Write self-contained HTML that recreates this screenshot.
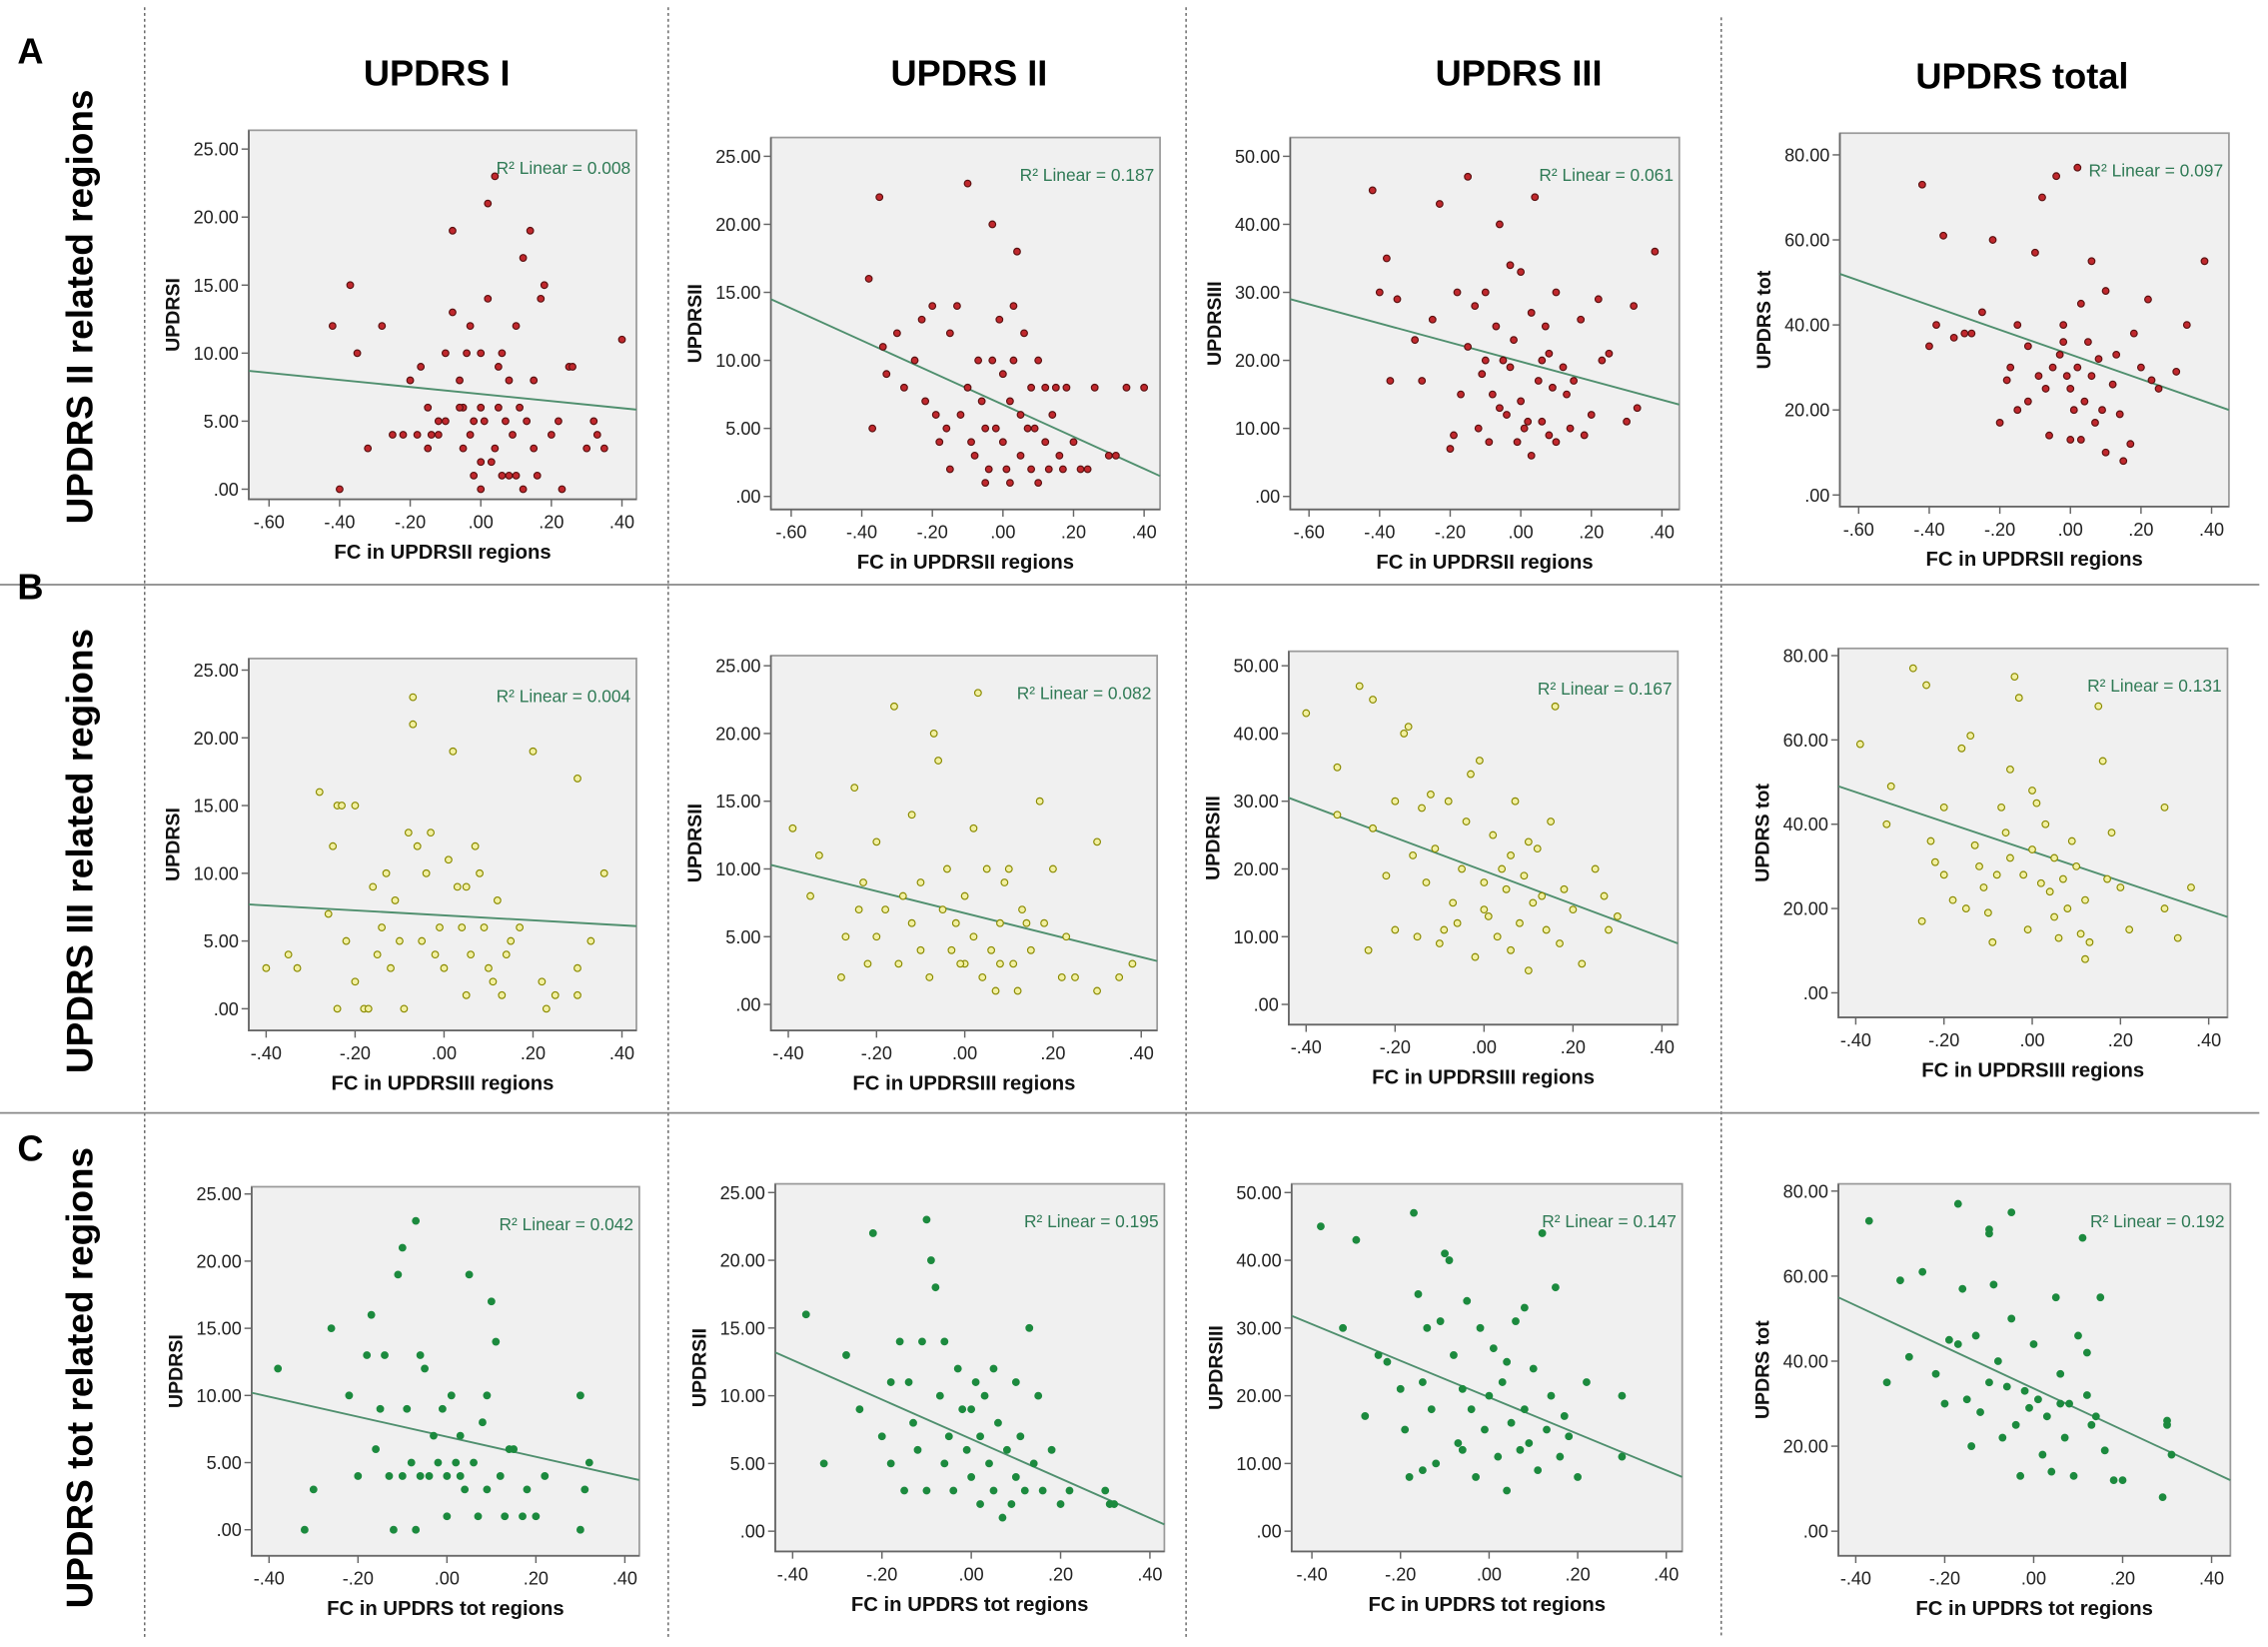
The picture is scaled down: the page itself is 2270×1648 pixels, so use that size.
<!DOCTYPE html>
<html><head><meta charset="utf-8"><style>
html,body{margin:0;padding:0;background:#fff;}
svg{display:block;font-family:"Liberation Sans",Arial,sans-serif;}
</style></head><body>
<svg id="fig" width="2270" height="1648" viewBox="0 0 1568 1138" preserveAspectRatio="none" xmlns="http://www.w3.org/2000/svg">
<g id="chrome">
<line x1="100" y1="5" x2="100" y2="1132" stroke="#666" stroke-dasharray="2,2"/>
<line x1="462" y1="5" x2="462" y2="1132" stroke="#666" stroke-dasharray="2,2"/>
<line x1="820" y1="5" x2="820" y2="1132" stroke="#666" stroke-dasharray="2,2"/>
<line x1="1190" y1="12" x2="1190" y2="1132" stroke="#666" stroke-dasharray="2,2"/>
<line x1="0" y1="404" x2="1562" y2="404" stroke="#888" stroke-width="1.2"/>
<line x1="0" y1="769" x2="1562" y2="769" stroke="#888" stroke-width="1.2"/>
<text x="302" y="59" text-anchor="middle" font-size="25" font-weight="bold">UPDRS I</text>
<text x="670" y="59" text-anchor="middle" font-size="25" font-weight="bold">UPDRS II</text>
<text x="1050" y="59" text-anchor="middle" font-size="25" font-weight="bold">UPDRS III</text>
<text x="1398" y="61" text-anchor="middle" font-size="25" font-weight="bold">UPDRS total</text>
<text x="12" y="44" font-size="25" font-weight="bold">A</text>
<text x="12" y="414" font-size="25" font-weight="bold">B</text>
<text x="12" y="802" font-size="25" font-weight="bold">C</text>
<text transform="translate(64,212) rotate(-90)" text-anchor="middle" font-size="25.5" font-weight="bold">UPDRS II related regions</text>
<text transform="translate(64,588) rotate(-90)" text-anchor="middle" font-size="25.5" font-weight="bold">UPDRS III related regions</text>
<text transform="translate(64,952) rotate(-90)" text-anchor="middle" font-size="25.5" font-weight="bold">UPDRS tot related regions</text>
</g>
<g id="plots"></g>
</svg>
<script>
// ---- data ----
const p1 = [[-0.4,0],[-0.42,12],[-0.37,15],[-0.35,10],[-0.32,3],[-0.28,12],[-0.25,4],[-0.22,4],[-0.2,8],[-0.18,4],[-0.17,9],[-0.15,3],[-0.14,4],[-0.12,4],[-0.1,5],[-0.1,10],[-0.08,13],[-0.08,19],[-0.06,8],[-0.05,6],[-0.05,3],[-0.04,10],[-0.03,12],[-0.03,4],[-0.02,1],[0,0],[0,6],[0,10],[0.01,5],[0.02,14],[0.02,21],[0.03,2],[0.04,23],[0.04,3],[0.05,6],[0.06,10],[0.07,5],[0.08,1],[0.08,8],[0.09,4],[0.1,12],[0.1,1],[0.12,17],[0.13,5],[0.14,19],[0.15,3],[0.16,1],[0.17,14],[0.18,15],[0.2,4],[0.22,5],[0.23,0],[0.25,9],[0.26,9],[0.3,3],[0.32,5],[0.33,4],[0.35,3],[0.4,11],[-0.06,6],[0,2],[-0.12,5],[0.11,6],[0.05,9],[-0.02,5],[0.12,0],[0.06,1],[-0.15,6],[0.15,8]];
const p2 = [[-0.38,16],[-0.35,22],[-0.37,5],[-0.34,11],[-0.33,9],[-0.3,12],[-0.28,8],[-0.25,10],[-0.23,13],[-0.22,7],[-0.2,14],[-0.19,6],[-0.18,4],[-0.16,5],[-0.15,12],[-0.15,2],[-0.13,14],[-0.12,6],[-0.1,23],[-0.1,8],[-0.09,4],[-0.08,3],[-0.07,10],[-0.06,7],[-0.05,5],[-0.05,1],[-0.03,20],[-0.03,10],[-0.02,5],[-0.01,13],[0,9],[0,4],[0.01,2],[0.02,1],[0.02,7],[0.03,10],[0.04,18],[0.05,6],[0.05,3],[0.06,12],[0.07,5],[0.08,2],[0.08,8],[0.1,10],[0.1,1],[0.12,8],[0.12,4],[0.13,2],[0.14,6],[0.15,8],[0.16,3],[0.17,2],[0.18,8],[0.2,4],[0.22,2],[0.24,2],[0.26,8],[0.3,3],[0.32,3],[0.35,8],[0.4,8],[0.03,14],[-0.04,2],[0.09,5]];
const p3 = [[-0.42,45],[-0.38,35],[-0.4,30],[-0.37,17],[-0.35,29],[-0.3,23],[-0.28,17],[-0.25,26],[-0.23,43],[-0.2,7],[-0.19,9],[-0.18,30],[-0.17,15],[-0.15,47],[-0.15,22],[-0.13,28],[-0.12,10],[-0.11,18],[-0.1,30],[-0.09,8],[-0.08,15],[-0.07,25],[-0.06,40],[-0.05,20],[-0.04,12],[-0.03,34],[-0.03,19],[-0.02,23],[-0.01,8],[0,14],[0.01,10],[0.02,11],[0.03,6],[0.03,27],[0.04,44],[0.05,17],[0.06,11],[0.07,25],[0.08,21],[0.09,16],[0.1,30],[0.1,8],[0.12,19],[0.13,15],[0.14,10],[0.15,17],[0.17,26],[0.18,9],[0.2,12],[0.22,29],[0.23,20],[0.25,21],[0.3,11],[0.32,28],[0.33,13],[0.38,36],[-0.06,13],[0,33],[0.06,20],[-0.1,20],[0.08,9]];
const p4 = [[-0.42,73],[-0.36,61],[-0.38,40],[-0.4,35],[-0.33,37],[-0.3,38],[-0.28,38],[-0.25,43],[-0.22,60],[-0.2,17],[-0.18,27],[-0.17,30],[-0.15,20],[-0.15,40],[-0.12,35],[-0.1,57],[-0.08,70],[-0.07,25],[-0.06,14],[-0.05,30],[-0.04,75],[-0.03,33],[-0.02,40],[-0.01,28],[0,13],[0.01,20],[0.02,30],[0.02,77],[0.03,45],[0.04,22],[0.05,36],[0.06,55],[0.07,17],[0.08,32],[0.1,48],[0.1,10],[0.12,26],[0.13,33],[0.14,19],[0.15,8],[0.17,12],[0.18,38],[0.2,30],[0.22,46],[0.23,27],[0.25,25],[0.3,29],[0.33,40],[0.38,55],[-0.09,28],[0,25],[0.06,28],[-0.12,22],[0.09,20],[-0.02,36],[0.03,13]];
const p5 = [[-0.4,3],[-0.35,4],[-0.33,3],[-0.28,16],[-0.26,7],[-0.25,12],[-0.24,15],[-0.23,15],[-0.2,15],[-0.22,5],[-0.24,0],[-0.2,2],[-0.18,0],[-0.17,0],[-0.16,9],[-0.15,4],[-0.13,10],[-0.12,3],[-0.1,5],[-0.09,0],[-0.08,13],[-0.07,23],[-0.07,21],[-0.06,12],[-0.05,5],[-0.04,10],[-0.03,13],[-0.02,4],[-0.01,6],[0,3],[0.01,11],[0.02,19],[0.03,9],[0.04,6],[0.05,1],[0.06,4],[0.07,12],[0.08,10],[0.09,6],[0.1,3],[0.11,2],[0.12,8],[0.13,1],[0.15,5],[0.17,6],[0.2,19],[0.22,2],[0.23,0],[0.25,1],[0.3,17],[0.3,1],[0.3,3],[0.33,5],[0.36,10],[-0.14,6],[0.14,4],[-0.11,8],[0.05,9]];
const p6 = [[-0.39,13],[-0.35,8],[-0.33,11],[-0.28,2],[-0.27,5],[-0.25,16],[-0.24,7],[-0.23,9],[-0.22,3],[-0.2,12],[-0.2,5],[-0.18,7],[-0.16,22],[-0.15,3],[-0.14,8],[-0.12,6],[-0.1,9],[-0.1,4],[-0.08,2],[-0.07,20],[-0.06,18],[-0.05,7],[-0.04,10],[-0.03,4],[-0.02,6],[0,8],[0,3],[0.02,13],[0.02,5],[0.03,23],[0.04,2],[0.05,10],[0.06,4],[0.07,1],[0.08,6],[0.09,9],[0.1,10],[0.11,3],[0.12,1],[0.13,7],[0.15,4],[0.17,15],[0.18,6],[0.2,10],[0.22,2],[0.23,5],[0.25,2],[0.3,12],[0.3,1],[0.35,2],[0.38,3],[-0.12,14],[0.08,3],[-0.01,3],[0.14,6]];
const p7 = [[-0.4,43],[-0.33,35],[-0.33,28],[-0.28,47],[-0.25,45],[-0.26,8],[-0.25,26],[-0.22,19],[-0.2,11],[-0.2,30],[-0.18,40],[-0.17,41],[-0.16,22],[-0.15,10],[-0.14,29],[-0.12,31],[-0.11,23],[-0.1,9],[-0.08,30],[-0.07,15],[-0.06,12],[-0.05,20],[-0.04,27],[-0.03,34],[-0.02,7],[-0.01,36],[0,18],[0.01,13],[0.02,25],[0.03,10],[0.04,20],[0.05,17],[0.06,8],[0.07,30],[0.08,12],[0.09,19],[0.1,5],[0.11,15],[0.12,23],[0.13,16],[0.14,11],[0.15,27],[0.16,44],[0.17,9],[0.18,17],[0.2,14],[0.22,6],[0.25,20],[0.27,16],[0.28,11],[0.3,13],[-0.09,11],[0,14],[0.06,22],[-0.13,18],[0.1,24]];
const p8 = [[-0.39,59],[-0.33,40],[-0.32,49],[-0.27,77],[-0.25,17],[-0.24,73],[-0.23,36],[-0.22,31],[-0.2,44],[-0.2,28],[-0.18,22],[-0.16,58],[-0.15,20],[-0.14,61],[-0.13,35],[-0.12,30],[-0.1,19],[-0.09,12],[-0.08,28],[-0.07,44],[-0.06,38],[-0.05,53],[-0.04,75],[-0.03,70],[-0.02,28],[-0.01,15],[0,34],[0.01,45],[0.02,26],[0.03,40],[0.04,24],[0.05,32],[0.06,13],[0.07,27],[0.08,20],[0.09,36],[0.1,30],[0.11,14],[0.12,22],[0.13,12],[0.15,68],[0.16,55],[0.17,27],[0.18,38],[0.2,25],[0.22,15],[0.3,44],[0.3,20],[0.33,13],[0.36,25],[-0.11,25],[0.05,18],[-0.05,32],[0.12,8],[0,48]];
const p9 = [[-0.38,12],[-0.32,0],[-0.3,3],[-0.26,15],[-0.22,10],[-0.2,4],[-0.18,13],[-0.17,16],[-0.15,9],[-0.14,13],[-0.13,4],[-0.12,0],[-0.11,19],[-0.1,21],[-0.1,4],[-0.09,9],[-0.08,5],[-0.07,23],[-0.07,0],[-0.06,13],[-0.05,12],[-0.04,4],[-0.03,7],[-0.02,5],[-0.01,9],[0,1],[0,4],[0.01,10],[0.02,5],[0.03,7],[0.04,3],[0.05,19],[0.06,5],[0.07,1],[0.08,8],[0.09,3],[0.1,17],[0.11,14],[0.12,4],[0.13,1],[0.15,6],[0.17,1],[0.18,3],[0.2,1],[0.22,4],[0.3,10],[0.3,0],[0.31,3],[0.32,5],[-0.16,6],[0.03,4],[-0.06,4],[0.09,10],[0.14,6]];
const p10 = [[-0.37,16],[-0.33,5],[-0.28,13],[-0.25,9],[-0.22,22],[-0.2,7],[-0.18,5],[-0.16,14],[-0.15,3],[-0.14,11],[-0.13,8],[-0.12,6],[-0.1,23],[-0.1,3],[-0.09,20],[-0.08,18],[-0.07,10],[-0.06,5],[-0.05,7],[-0.04,3],[-0.03,12],[-0.02,9],[-0.01,6],[0,4],[0.01,11],[0.02,2],[0.02,7],[0.03,10],[0.04,5],[0.05,3],[0.06,8],[0.07,1],[0.08,6],[0.09,2],[0.1,11],[0.11,7],[0.12,3],[0.13,15],[0.14,5],[0.15,10],[0.16,3],[0.18,6],[0.2,2],[0.22,3],[0.3,3],[0.31,2],[0.32,2],[-0.11,14],[-0.06,14],[0,9],[0.05,12],[0.1,4],[-0.18,11]];
const p11 = [[-0.38,45],[-0.33,30],[-0.3,43],[-0.28,17],[-0.25,26],[-0.23,25],[-0.2,21],[-0.18,8],[-0.17,47],[-0.16,35],[-0.15,22],[-0.14,30],[-0.13,18],[-0.12,10],[-0.11,31],[-0.1,41],[-0.09,40],[-0.08,26],[-0.07,13],[-0.06,21],[-0.05,34],[-0.04,18],[-0.03,8],[-0.02,30],[-0.01,15],[0,20],[0.01,27],[0.02,11],[0.03,22],[0.04,6],[0.05,16],[0.06,31],[0.07,12],[0.08,18],[0.09,13],[0.1,24],[0.11,9],[0.12,44],[0.13,15],[0.14,20],[0.15,36],[0.16,11],[0.17,17],[0.18,14],[0.2,8],[0.22,22],[0.3,20],[0.3,11],[-0.19,15],[-0.06,12],[0.04,25],[0.08,33],[-0.15,9]];
const p12 = [[-0.37,73],[-0.33,35],[-0.3,59],[-0.28,41],[-0.25,61],[-0.22,37],[-0.2,30],[-0.19,45],[-0.17,77],[-0.16,57],[-0.15,31],[-0.14,20],[-0.13,46],[-0.12,28],[-0.1,70],[-0.1,71],[-0.09,58],[-0.08,40],[-0.07,22],[-0.06,34],[-0.05,75],[-0.04,25],[-0.03,13],[-0.02,33],[-0.01,29],[0,44],[0.01,31],[0.02,18],[0.03,27],[0.04,14],[0.05,55],[0.06,37],[0.07,22],[0.08,30],[0.09,13],[0.1,46],[0.11,69],[0.12,32],[0.13,25],[0.14,27],[0.15,55],[0.16,19],[0.18,12],[0.2,12],[0.3,26],[0.3,25],[0.31,18],[0.29,8],[-0.17,44],[-0.05,50],[0.06,30],[0.12,42],[-0.1,35]];
// regression line values at left/right domain edges
const fitLines = [[8.7,5.85],[14.5,1.5],[29,13.5],[52,20],[7.7,6.1],[10.3,3.2],[30.5,9],[49,18],[10.2,3.7],[13.2,0.5],[31.8,8],[55,12]];
const rSquared = ["0.008","0.187","0.061","0.097","0.004","0.082","0.167","0.131","0.042","0.195","0.147","0.192"];
const xTicksA = [-0.6,-0.4,-0.2,0,0.2,0.4];
const xTicksB = [-0.4,-0.2,0,0.2,0.4];
const yTicks25 = [0,5,10,15,20,25];
const yTicks50 = [0,10,20,30,40,50];
const yTicks80 = [0,20,40,60,80];
const yTitles = ["UPDRSI","UPDRSII","UPDRSIII","UPDRS tot"];
const xTitles = ["FC in UPDRSII regions","FC in UPDRSIII regions","FC in UPDRS tot regions"];

// ---- layout (pixel config) ----
const cfgs = [
 {b:[172,90,440,345],xa:[-0.6,186],xb:[0.4,430],ya:[25,103],yb:[0,338],pts:p1,xt:xTicksA,yt:yTicks25,col:0,row:0},
 {b:[533,95,802,352],xa:[-0.6,547],xb:[0.4,791],ya:[25,108],yb:[0,343],pts:p2,xt:xTicksA,yt:yTicks25,col:1,row:0},
 {b:[892,95,1161,352],xa:[-0.6,905],xb:[0.4,1149],ya:[50,108],yb:[0,343],pts:p3,xt:xTicksA,yt:yTicks50,col:2,row:0},
 {b:[1272,92,1541,350],xa:[-0.6,1285],xb:[0.4,1529],ya:[80,107],yb:[0,342],pts:p4,xt:xTicksA,yt:yTicks80,col:3,row:0},
 {b:[172,455,440,712],xa:[-0.4,184],xb:[0.4,430],ya:[25,463],yb:[0,697],pts:p5,xt:xTicksB,yt:yTicks25,col:0,row:1},
 {b:[533,453,800,712],xa:[-0.4,545],xb:[0.4,789],ya:[25,460],yb:[0,694],pts:p6,xt:xTicksB,yt:yTicks25,col:1,row:1},
 {b:[891,450,1160,708],xa:[-0.4,903],xb:[0.4,1149],ya:[50,460],yb:[0,694],pts:p7,xt:xTicksB,yt:yTicks50,col:2,row:1},
 {b:[1271,448,1540,703],xa:[-0.4,1283],xb:[0.4,1527],ya:[80,453],yb:[0,686],pts:p8,xt:xTicksB,yt:yTicks80,col:3,row:1},
 {b:[174,820,442,1075],xa:[-0.4,186],xb:[0.4,432],ya:[25,825],yb:[0,1057],pts:p9,xt:xTicksB,yt:yTicks25,col:0,row:2},
 {b:[536,818,805,1072],xa:[-0.4,548],xb:[0.4,795],ya:[25,824],yb:[0,1058],pts:p10,xt:xTicksB,yt:yTicks25,col:1,row:2},
 {b:[893,818,1163,1072],xa:[-0.4,907],xb:[0.4,1152],ya:[50,824],yb:[0,1058],pts:p11,xt:xTicksB,yt:yTicks50,col:2,row:2},
 {b:[1271,818,1542,1075],xa:[-0.4,1283],xb:[0.4,1529],ya:[80,823],yb:[0,1058],pts:p12,xt:xTicksB,yt:yTicks80,col:3,row:2}
];
const styles = [{f:"#c0282d",s:"#5a1010"},{f:"#f2f0a0",s:"#8a8a00"},{f:"#1c8a3e",s:"#1c8a3e"}];
const NS="http://www.w3.org/2000/svg";
const root=document.getElementById('plots');
function mk(tag,attrs,parent){const e=document.createElementNS(NS,tag);for(const k in attrs)e.setAttribute(k,attrs[k]);parent.appendChild(e);return e;}
function fmtX(v){if(Math.abs(v)<1e-9)return ".00";const s=Math.abs(v).toFixed(2).replace(/^0/,"");return (v<0?"-":"")+s;}
function fmtY(v){return v===0?".00":v.toFixed(2);}
cfgs.forEach((c,i)=>{
 const g=mk('g',{},root);
 
 
 const sx=v=>c.xa[1]+(v-c.xa[0])*(c.xb[1]-c.xa[1])/(c.xb[0]-c.xa[0]);
 const sy=v=>c.ya[1]+(v-c.ya[0])*(c.yb[1]-c.ya[1])/(c.yb[0]-c.ya[0]);
 const invx=p=>c.xa[0]+(p-c.xa[1])*(c.xb[0]-c.xa[0])/(c.xb[1]-c.xa[1]);
 const [x0,y0,x1,y1]=c.b;
 const bg=mk('rect',{x:x0,y:y0,width:x1-x0,height:y1-y0,fill:"#f0f0f0",stroke:"#9a9a9a","stroke-width":1.2},g);
 
 
 const ax=mk('path',{d:`M${x0},${y0}V${y1}H${x1}`,fill:"none",stroke:"#666","stroke-width":1.2},g);
 
 
 c.xt.forEach(v=>{
  const px=sx(v);
  mk('line',{x1:px,y1:y1,x2:px,y2:y1+5,stroke:"#666"},g);
  const t=mk('text',{x:px,y:y1+20,"text-anchor":"middle","font-size":12.5,fill:"#222"},g);
  t.textContent=fmtX(v);
  
  
 });
 c.yt.forEach(v=>{
  const py=sy(v);
  mk('line',{x1:x0-5,y1:py,x2:x0,y2:py,stroke:"#666"},g);
  const t=mk('text',{x:x0-7,y:py+4.5,"text-anchor":"end","font-size":12.5,fill:"#222"},g);
  t.textContent=fmtY(v);
  
  
 });
 const yt=mk('text',{transform:`translate(${x0-48},${(y0+y1)/2}) rotate(-90)`,"text-anchor":"middle","font-size":13.5,"font-weight":"bold",fill:"#111"},g);
 yt.textContent=yTitles[c.col];
 
 
 const xt=mk('text',{x:(x0+x1)/2,y:y1+41,"text-anchor":"middle","font-size":14,"font-weight":"bold",fill:"#111"},g);
 xt.textContent=xTitles[c.row];
 
 
 const lx0=invx(x0), lx1=invx(x1);
 const ln=mk('line',{x1:sx(lx0),y1:sy(fitLines[i][0]),x2:sx(lx1),y2:sy(fitLines[i][1]),stroke:"#4f8f6e","stroke-width":1.3},g);
 
 
 const st=styles[c.row];
 c.pts.forEach(p=>{
  const d=mk('circle',{cx:sx(p[0]),cy:sy(p[1]),r:2.3,fill:st.f,stroke:st.s,"stroke-width":0.8},g);
  
  
 });
 const r=mk('text',{x:x1-4,y:y0+30,"text-anchor":"end","font-size":12,fill:"#2f7a55"},g);
 r.textContent="R² Linear = "+rSquared[i];
 
 
});
</script>
</body></html>
